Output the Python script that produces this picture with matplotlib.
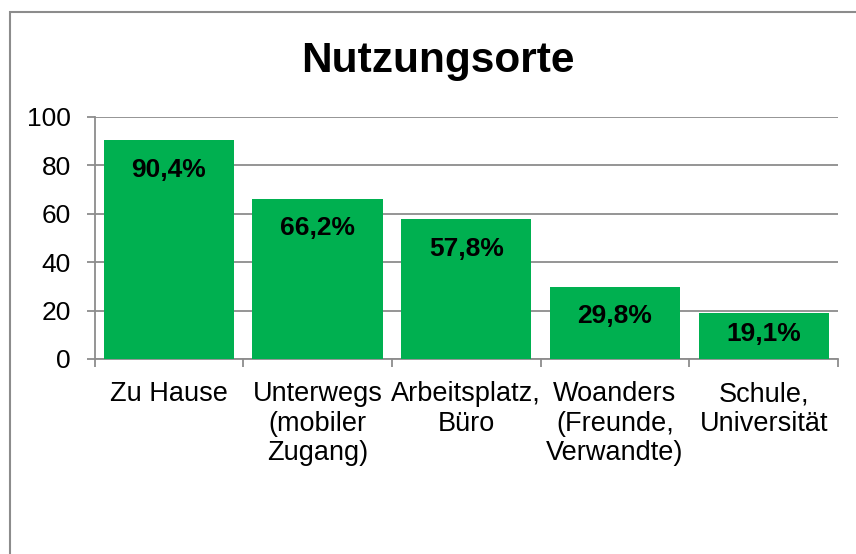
import matplotlib.pyplot as plt
from matplotlib.patches import Rectangle

categories = ['Zu Hause', 'Unterwegs\n(mobiler\nZugang)', 'Arbeitsplatz,\nBüro',
              'Woanders\n(Freunde,\nVerwandte)', 'Schule,\nUniversität']
values = [90.4, 66.2, 57.8, 29.8, 19.1]
labels = ['90,4%', '66,2%', '57,8%', '29,8%', '19,1%']
yticks = [0, 20, 40, 60, 80, 100]

plt.rcParams['font.family'] = ['Liberation Sans', 'DejaVu Sans']

W, H = 856, 554
fig = plt.figure(figsize=(W / 100, H / 100), dpi=100)

# outer chart border (runs off the right and bottom edge)
fig.patches.append(Rectangle((10 / W, -0.05), 1.0, 1 - 12 / H + 0.05,
                             transform=fig.transFigure, fill=False,
                             edgecolor='#8c8c8c', linewidth=1.5))

ax_top, ax_bot = 117, 359
ax = fig.add_axes([94.5 / W, 1 - ax_bot / H, (838 - 94.5) / W, (ax_bot - ax_top) / H])
x = list(range(len(values)))
ax.bar(x, values, width=0.875, color='#00B050', zorder=3)
ax.set_xlim(-0.5, len(values) - 0.5)
ax.set_ylim(0, 100)
ax.set_yticks(yticks)
ax.set_xticks([i - 0.5 for i in range(len(values) + 1)], minor=False)
ax.set_xticklabels([])
ax.set_xticks(x, minor=True)
ax.set_xticklabels(categories, minor=True, fontsize=19.5, linespacing=1.17)
ax.tick_params(axis='x', which='minor', length=0, pad=16)
ax.tick_params(axis='x', which='major', length=6, width=1.3, color='#8c8c8c')
ax.tick_params(axis='y', length=6, width=1.3, color='#8c8c8c', labelsize=19, pad=11)
ax.grid(axis='y', color='#8c8c8c', linewidth=1.3, zorder=0)
for s in ['top', 'right']:
    ax.spines[s].set_visible(False)
for s in ['left', 'bottom']:
    ax.spines[s].set_color('#8c8c8c')
    ax.spines[s].set_linewidth(1.3)

# labels sit inside the bar end; pushed up when the bar is short
for xi, v, lab in zip(x, values, labels):
    bar_px = v / 100 * (ax_bot - ax_top)
    off_px = min(29.5, bar_px - 25)
    ax.annotate(lab, (xi, v), xytext=(0, -off_px * 0.72), textcoords='offset points',
                ha='center', va='center', fontsize=19, fontweight='bold', zorder=4)

fig.text(438 / W, 1 - 61 / H, 'Nutzungsorte', ha='center', va='center',
         fontsize=30.5, fontweight='bold')

fig.savefig('out.png', dpi=100)
